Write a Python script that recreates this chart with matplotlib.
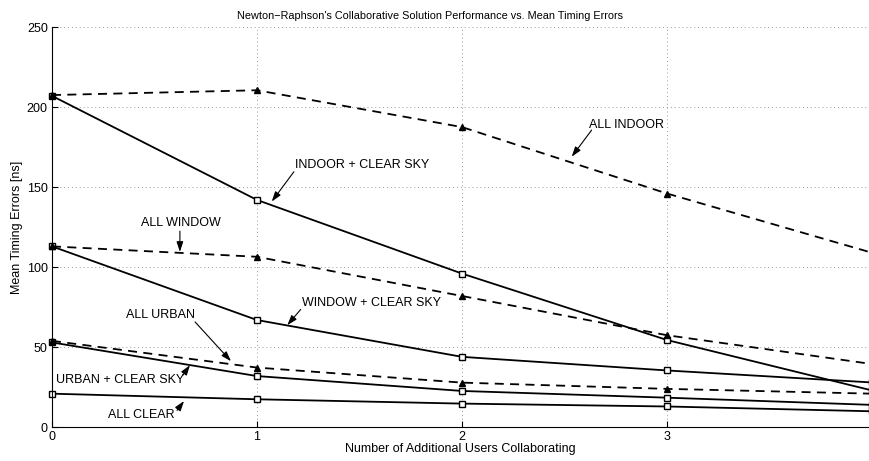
import numpy as np
import matplotlib.pyplot as plt

plt.rcParams['font.family'] = ['Liberation Sans', 'DejaVu Sans']

# Mean timing errors [ns] vs. number of additional collaborating users
users = [0, 1, 2, 3, 4]

all_indoor = [207.5, 210.5, 187.5, 146, 109]
indoor_clear = [207, 142, 96, 54.5, 23]
all_window = [113, 106.5, 82, 57.5, 39.5]
window_clear = [113, 67, 44, 35.5, 28]
all_urban = [54, 37.3, 27.9, 24, 21]
urban_clear = [53, 32, 22.7, 18.5, 14]
all_clear = [21, 17.5, 14.8, 13, 10]

solid_series = [indoor_clear, window_clear, urban_clear, all_clear]
dashed_series = [all_indoor, all_window, all_urban]

# label, text position (left, middle), arrow tail, arrow tip
notes = [
    ('ALL INDOOR', (2.62, 188.5), (2.632, 185.6), (2.535, 169)),
    ('INDOOR + CLEAR SKY', (1.185, 163.8), (1.180, 159.6), (1.072, 141)),
    ('ALL WINDOW', (0.434, 127.7), (0.624, 122.5), (0.624, 109.6)),
    ('WINDOW + CLEAR SKY', (1.218, 77.7), (1.213, 73.6), (1.148, 63.8)),
    ('ALL URBAN', (0.361, 70.4), (0.698, 65.8), (0.873, 41.3)),
    ('URBAN + CLEAR SKY', (0.02, 29.8), (0.638, 32.5), (0.673, 38.8)),
    ('ALL CLEAR', (0.273, 7.5), (0.610, 10.6), (0.644, 16.4)),
]

fig = plt.figure(figsize=(8.69, 4.61), dpi=100)
ax = fig.add_axes([0.0598, 0.0731, 0.9402, 0.8683])

for s in solid_series:
    ax.plot(users, s, '-', color='black', lw=1.3, marker='s', ms=4,
            mfc='white', mec='black', mew=1.0, clip_on=False)
for s in dashed_series:
    ax.plot(users, s, '--', color='black', lw=1.3, marker='^', ms=5,
            mfc='black', mec='black', dashes=(5, 3.5), clip_on=False)

for label, pos, tail, tip in notes:
    ax.text(pos[0], pos[1], label, fontsize=9, va='center', ha='left')
    ax.annotate('', xy=tip, xytext=tail,
                arrowprops=dict(arrowstyle='-|>,head_length=0.6,head_width=0.2',
                                color='black', lw=0.8, shrinkA=0, shrinkB=0))

ax.set_xlim(0, 3.985)
ax.set_ylim(0, 250)
ax.set_xticks([0, 1, 2, 3])
ax.set_yticks([0, 50, 100, 150, 200, 250])
ax.grid(True, linestyle=(0, (1, 3)), color='#999999', lw=0.7)
ax.tick_params(direction='in', length=4, labelsize=9, pad=3)
ax.spines['top'].set_visible(False)
ax.spines['right'].set_visible(False)

ax.set_title("Newton\u2212Raphson's Collaborative Solution Performance vs. Mean Timing Errors",
             fontsize=7.8, x=0.4627, pad=6)
ax.set_xlabel('Number of Additional Users Collaborating', fontsize=9, labelpad=0)
ax.set_ylabel('Mean Timing Errors [ns]', fontsize=9, labelpad=3)

fig.savefig('out.png', dpi=100)
